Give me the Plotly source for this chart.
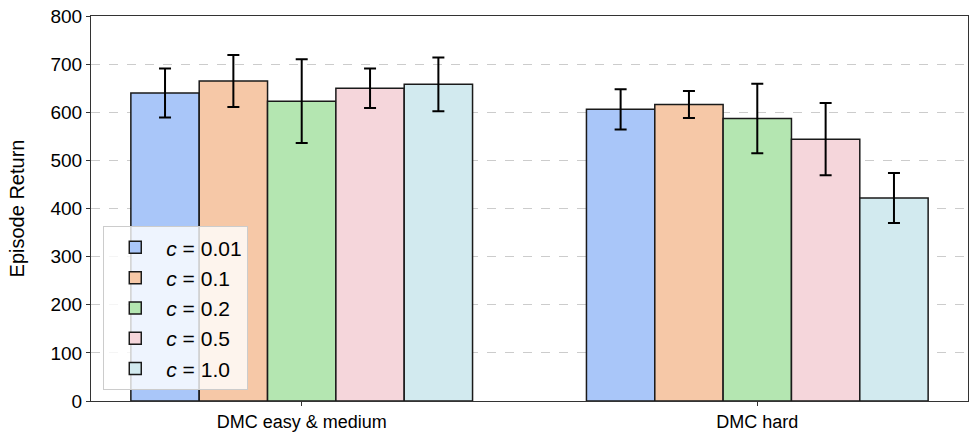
import plotly.graph_objects as go

# Daten
kategorien = ["DMC easy & medium", "DMC hard"]
c_werte = ["0.01", "0.1", "0.2", "0.5", "1.0"]
mittelwerte = [
    [640, 606],
    [665, 616],
    [623, 587],
    [650, 544],
    [658, 422],
]
fehler = [
    [51, 42],
    [54, 28],
    [87, 72],
    [41, 75],
    [56, 52],
]
farben = ["#a9c6f9", "#f6c8a7", "#b4e6b1", "#f5d6db", "#d2eaef"]

fig = go.Figure()
for c, y, err, farbe in zip(c_werte, mittelwerte, fehler, farben):
    fig.add_trace(
        go.Bar(
            x=kategorien,
            y=y,
            name=f"<i>c</i> = {c}",
            marker=dict(color=farbe, line=dict(color="#1a1a1a", width=1.5)),
            error_y=dict(type="data", array=err, color="black", thickness=2, width=6),
        )
    )

fig.update_layout(
    width=977,
    height=438,
    margin=dict(l=91, r=9, t=16, b=37),
    plot_bgcolor="white",
    paper_bgcolor="white",
    font=dict(family="Liberation Sans, Arial, sans-serif", size=18, color="black"),
    barmode="group",
    bargap=0.25,
    bargroupgap=0,
    legend=dict(
        x=0.014,
        y=0.028,
        xanchor="left",
        yanchor="bottom",
        bgcolor="rgba(255,255,255,0.8)",
        bordercolor="#cccccc",
        borderwidth=1,
        font=dict(size=21),
        itemwidth=52,
        tracegroupgap=3,
    ),
)

fig.update_xaxes(
    range=[-0.4625, 1.4625],
    automargin=False,
    showline=True,
    linecolor="#333333",
    linewidth=1,
    mirror=True,
    ticks="outside",
    ticklen=4,
    tickcolor="#333333",
    tickfont=dict(size=18),
)
fig.update_yaxes(
    range=[0, 800],
    dtick=100,
    automargin=False,
    title=dict(text="Episode Return", font=dict(size=20), standoff=20),
    showline=True,
    linecolor="#333333",
    linewidth=1,
    mirror=True,
    ticks="outside",
    ticklen=4,
    tickcolor="#333333",
    tickfont=dict(size=19),
    showgrid=True,
    gridcolor="#cccccc",
    griddash="dash",
    gridwidth=1,
    zeroline=False,
)

# Seitenrand des Body entfernen, damit die Grafik bündig sitzt
fig.write_html(
    "out.html",
    config={"displayModeBar": False},
    post_script="document.body.style.margin='0';",
)
